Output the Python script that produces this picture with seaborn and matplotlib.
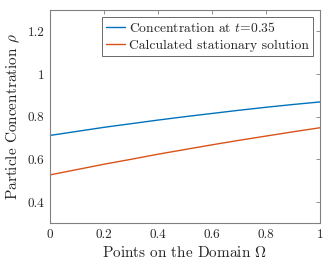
import numpy as np
import pandas as pd
import seaborn as sns
import matplotlib.pyplot as plt

# Values
points = [0.0, 0.1, 0.2, 0.3, 0.4, 0.5, 0.6, 0.7, 0.8, 0.9, 1.0]
concentration_t035 = [0.712, 0.731, 0.750, 0.767, 0.784, 0.800,
                      0.815, 0.830, 0.844, 0.857, 0.869]
stationary_solution = [0.527, 0.552, 0.577, 0.600, 0.624, 0.646,
                       0.668, 0.689, 0.709, 0.729, 0.748]

x_ticks = [0, 0.2, 0.4, 0.6, 0.8, 1]
x_tick_labels = ["0", "0.2", "0.4", "0.6", "0.8", "1"]
y_ticks = [0.4, 0.6, 0.8, 1.0, 1.2]
y_tick_labels = ["0.4", "0.6", "0.8", "1", "1.2"]


def main():
    sns.set_style("white")
    plt.rcParams["font.family"] = ["cmr10", "DejaVu Serif"]
    plt.rcParams["mathtext.fontset"] = "cm"
    plt.rcParams["axes.formatter.use_mathtext"] = True

    df = pd.DataFrame({
        "x": points * 2,
        "rho": concentration_t035 + stationary_solution,
        "series": ["Concentration at $t$=0.35"] * len(points)
        + ["Calculated stationary solution"] * len(points),
    })

    fig = plt.figure(figsize=(3.32, 2.68), dpi=100)
    ax = fig.add_axes([0.1506, 0.1667, 0.8133, 0.7960])

    palette = ["#0072BD", "#D95319"]
    sns.lineplot(data=df, x="x", y="rho", hue="series", palette=palette,
                 linewidth=1.0, ax=ax)

    ax.set_xlim(0, 1)
    ax.set_ylim(0.3, 1.3)
    ax.set_xticks(x_ticks)
    ax.set_xticklabels(x_tick_labels)
    ax.set_yticks(y_ticks)
    ax.set_yticklabels(y_tick_labels)

    axis_grey = "#808080"
    for spine in ax.spines.values():
        spine.set_visible(True)
        spine.set_color(axis_grey)
        spine.set_linewidth(0.8)
    ax.tick_params(axis="both", which="major", direction="in", length=3,
                   width=0.6, color=axis_grey, labelsize=9.5,
                   labelcolor="#262626", top=True, right=True, pad=4)

    ax.set_xlabel(r"Points on the Domain $\Omega$", fontsize=11,
                  color="#262626", labelpad=3)
    ax.set_ylabel(r"Particle Concentration $\rho$", fontsize=11,
                  color="#262626", labelpad=4)

    leg = ax.legend(loc="upper right", fontsize=9.8, frameon=True,
                    fancybox=False, handlelength=1.4, handletextpad=0.3,
                    borderpad=0.3, labelspacing=0.3, borderaxespad=0.5)
    leg.get_frame().set_edgecolor("#262626")
    leg.get_frame().set_linewidth(0.6)
    for t in leg.get_texts():
        t.set_color("#262626")

    plt.savefig("out.png", dpi=100)


if __name__ == "__main__":
    main()
